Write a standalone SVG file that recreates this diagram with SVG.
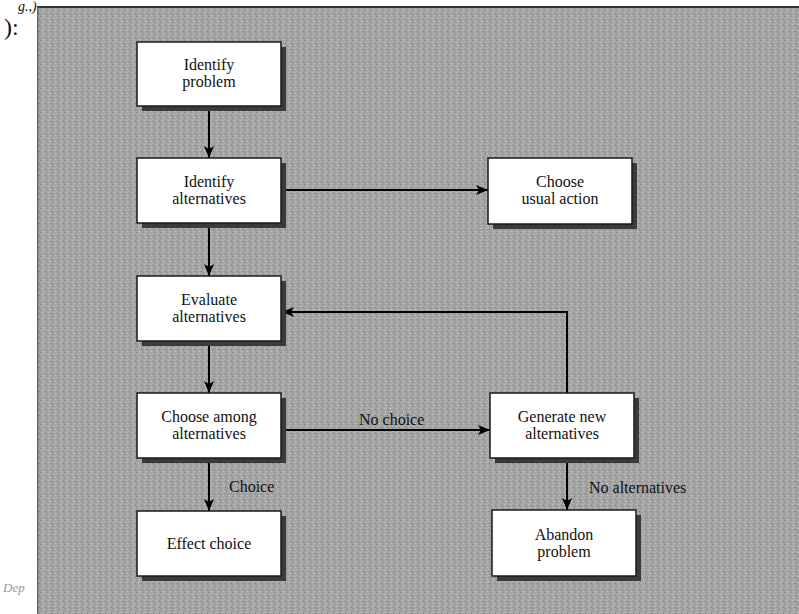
<svg xmlns="http://www.w3.org/2000/svg" width="799" height="614" viewBox="0 0 799 614">
<defs>
<pattern id="grain" width="6" height="6" patternUnits="userSpaceOnUse">
<rect width="6" height="6" fill="#a4a4a4"/>
<rect x="0" y="0" width="1" height="1" fill="#cacaca"/>
<rect x="3" y="1" width="1" height="1" fill="#7e7e7e"/>
<rect x="1" y="3" width="1" height="1" fill="#d0d0d0"/>
<rect x="4" y="4" width="1" height="1" fill="#858585"/>
<rect x="2" y="5" width="1" height="1" fill="#bbbbbb"/>
<rect x="5" y="2" width="1" height="1" fill="#909090"/>
</pattern>
<marker id="ah" viewBox="0 0 12 10" refX="12" refY="5" markerWidth="12" markerHeight="10" markerUnits="userSpaceOnUse" orient="auto">
<path d="M0,0 L12,5 L0,10 L3,5 Z" fill="#000"/>
</marker>
<style>
.box{fill:#fff;stroke:#1a1a1a;stroke-width:1.5}
.sh{fill:#3a3a3a}
.t{font-family:"Liberation Serif","Times New Roman",serif;font-size:16px;fill:#111;text-anchor:middle}
.lbl{font-family:"Liberation Serif","Times New Roman",serif;font-size:16px;fill:#111}
.c{fill:none;stroke:#000;stroke-width:2;marker-end:url(#ah)}
</style>
</defs>
<rect width="799" height="614" fill="#fff"/>
<text x="4" y="35" font-family="Liberation Serif, serif" font-size="24" fill="#111">):</text>
<text x="18" y="11" font-family="Liberation Serif, serif" font-style="italic" font-size="14" fill="#111">g.,)</text>
<text x="3" y="592" font-family="Liberation Serif, serif" font-style="italic" font-size="13" fill="#9a9a9a">Dep</text>
<rect x="37" y="7" width="762" height="607" fill="url(#grain)"/>
<rect x="37" y="6" width="762" height="2" fill="#333"/>
<rect x="37" y="7" width="1.5" height="607" fill="#666"/>

<g id="connectors">
<line class="c" x1="209" y1="106" x2="209" y2="158"/>
<line class="c" x1="209" y1="223" x2="209" y2="276"/>
<line class="c" x1="209" y1="341" x2="209" y2="393"/>
<line class="c" x1="209" y1="458" x2="209" y2="511"/>
<line class="c" x1="281" y1="190" x2="488" y2="190"/>
<line class="c" x1="281" y1="430" x2="490" y2="430"/>
<line class="c" x1="567" y1="458" x2="567" y2="510"/>
<polyline class="c" points="567,393 567,312 282,312"/>
<text class="lbl" x="359" y="425">No choice</text>
<text class="lbl" x="229" y="492">Choice</text>
<text class="lbl" x="589" y="493">No alternatives</text>
</g>

<g id="identify-problem">
<rect class="sh" x="142" y="47" width="144" height="64"/>
<rect class="box" x="137" y="42" width="144" height="64"/>
<text class="t" x="209" y="70">Identify</text>
<text class="t" x="209" y="87">problem</text>
</g>
<g id="identify-alternatives">
<rect class="sh" x="142" y="163" width="144" height="65"/>
<rect class="box" x="137" y="158" width="144" height="65"/>
<text class="t" x="209" y="187">Identify</text>
<text class="t" x="209" y="204">alternatives</text>
</g>
<g id="choose-usual-action">
<rect class="sh" x="493" y="163" width="144" height="66"/>
<rect class="box" x="488" y="158" width="144" height="66"/>
<text class="t" x="560" y="187">Choose</text>
<text class="t" x="560" y="204">usual action</text>
</g>
<g id="evaluate-alternatives">
<rect class="sh" x="142" y="281" width="144" height="65"/>
<rect class="box" x="137" y="276" width="144" height="65"/>
<text class="t" x="209" y="305">Evaluate</text>
<text class="t" x="209" y="322">alternatives</text>
</g>
<g id="choose-among-alternatives">
<rect class="sh" x="142" y="398" width="144" height="65"/>
<rect class="box" x="137" y="393" width="144" height="65"/>
<text class="t" x="209" y="422">Choose among</text>
<text class="t" x="209" y="439">alternatives</text>
</g>
<g id="generate-new-alternatives">
<rect class="sh" x="495" y="398" width="144" height="65"/>
<rect class="box" x="490" y="393" width="144" height="65"/>
<text class="t" x="562" y="422">Generate new</text>
<text class="t" x="562" y="439">alternatives</text>
</g>
<g id="effect-choice">
<rect class="sh" x="142" y="516" width="144" height="65"/>
<rect class="box" x="137" y="511" width="144" height="65"/>
<text class="t" x="209" y="549">Effect choice</text>
</g>
<g id="abandon-problem">
<rect class="sh" x="497" y="515" width="144" height="66"/>
<rect class="box" x="492" y="510" width="144" height="66"/>
<text class="t" x="564" y="540">Abandon</text>
<text class="t" x="564" y="557">problem</text>
</g>
</svg>
